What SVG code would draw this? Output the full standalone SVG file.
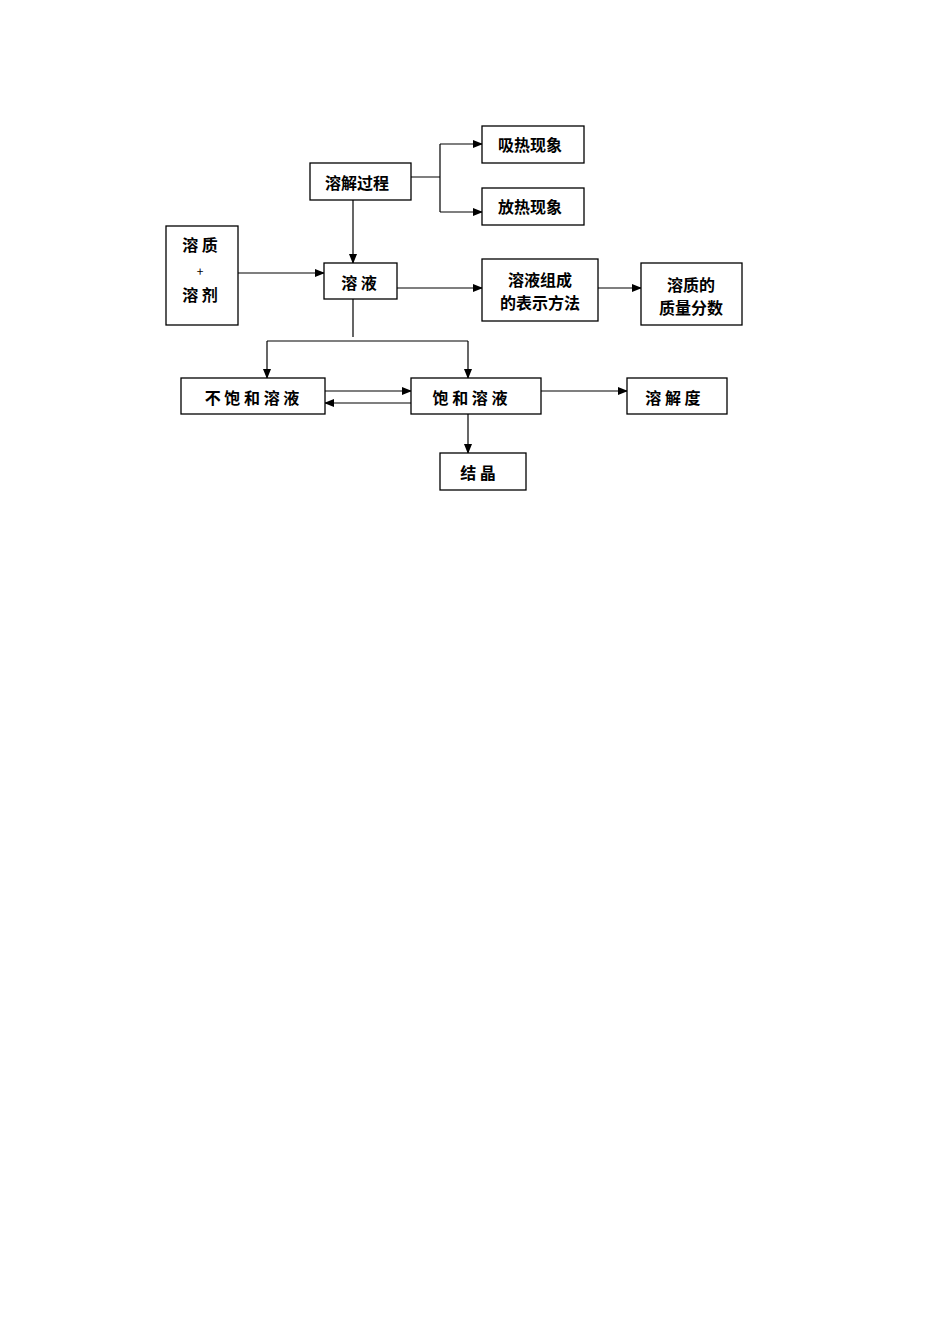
<svg xmlns="http://www.w3.org/2000/svg" width="950" height="1344" viewBox="0 0 950 1344">
<style>
rect{fill:#fff;stroke:#000;stroke-width:1.3}
text{font-family:"Noto Sans CJK SC","Liberation Sans",sans-serif;font-weight:bold;font-size:16px;fill:#000;text-anchor:middle;dominant-baseline:central}
#c path{fill:none;stroke:#000;stroke-width:1.2}
</style>
<defs><marker id="a" markerWidth="10" markerHeight="8" refX="9" refY="4" orient="auto" markerUnits="userSpaceOnUse"><path d="M0,0 L10,4 L0,8 Z" fill="#000"/></marker></defs>
<rect width="950" height="1344" style="fill:#fff;stroke:none"/>
<g id="c">
<path d="M411,177 H440 M440,144 V212"/>
<path d="M440,144 H482" marker-end="url(#a)"/>
<path d="M440,212 H482" marker-end="url(#a)"/>
<path d="M353,200 V263" marker-end="url(#a)"/>
<path d="M238,273 H324" marker-end="url(#a)"/>
<path d="M397,288 H482" marker-end="url(#a)"/>
<path d="M598,288 H641" marker-end="url(#a)"/>
<path d="M353,299 V337 M267,341 H468"/>
<path d="M267,341 V378" marker-end="url(#a)"/>
<path d="M468,341 V378" marker-end="url(#a)"/>
<path d="M325,391 H411" marker-end="url(#a)"/>
<path d="M411,403 H325" marker-end="url(#a)"/>
<path d="M541,391 H627" marker-end="url(#a)"/>
<path d="M468,414 V453" marker-end="url(#a)"/>
</g>
<g id="n1"><rect x="310" y="163" width="101" height="37"/><text x="357" y="182">溶解过程</text></g>
<g id="n2"><rect x="482" y="126" width="102" height="37"/><text x="530" y="144">吸热现象</text></g>
<g id="n3"><rect x="482" y="188" width="102" height="37"/><text x="530" y="206">放热现象</text></g>
<g id="n4"><rect x="166" y="226" width="72" height="99"/><text x="200" y="244">溶 质</text><text x="200" y="270" style="font-size:12px;font-weight:normal">+</text><text x="200" y="294">溶 剂</text></g>
<g id="n5"><rect x="324" y="263" width="73" height="36"/><text x="359" y="282">溶 液</text></g>
<g id="n6"><rect x="482" y="259" width="116" height="62"/><text x="540" y="279">溶液组成</text><text x="540" y="302">的表示方法</text></g>
<g id="n7"><rect x="641" y="263" width="101" height="62"/><text x="691" y="284">溶质的</text><text x="691" y="307">质量分数</text></g>
<g id="n8"><rect x="181" y="378" width="144" height="36"/><text x="252" y="397">不 饱 和 溶 液</text></g>
<g id="n9"><rect x="411" y="378" width="130" height="36"/><text x="470" y="397">饱 和 溶 液</text></g>
<g id="n10"><rect x="627" y="378" width="100" height="36"/><text x="673" y="397">溶 解 度</text></g>
<g id="n11"><rect x="440" y="453" width="86" height="37"/><text x="478" y="472">结   晶</text></g>
</svg>
